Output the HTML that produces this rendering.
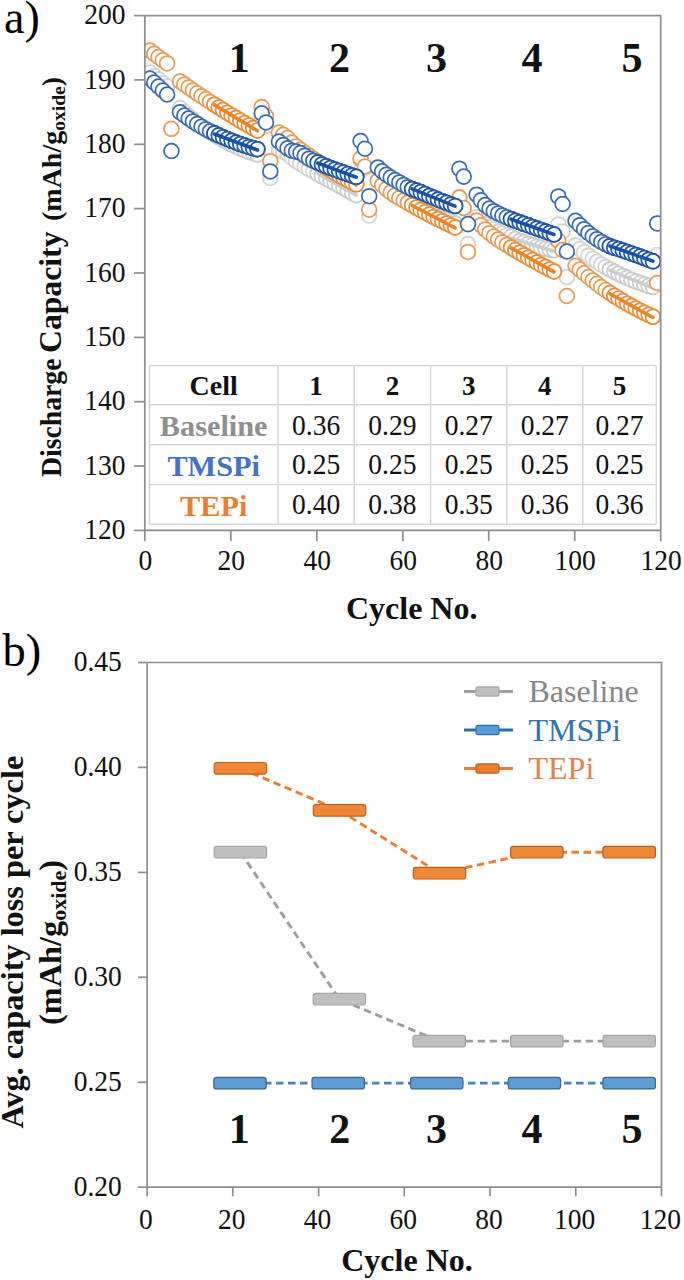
<!DOCTYPE html><html><head><meta charset="utf-8"><style>html,body{margin:0;padding:0;background:#fff;width:684px;height:1280px;overflow:hidden}svg{display:block}</style></head><body>
<svg width="684" height="1280" viewBox="0 0 684 1280" font-family="Liberation Serif, serif">
<defs><clipPath id="ca"><rect x="144.8" y="15.6" width="515.9" height="514.8"/></clipPath></defs>
<text x="4" y="32.7" font-size="46">a)</text>
<g clip-path="url(#ca)">
<g fill="#fff" stroke="#d3d3d3" stroke-width="1.75">
<circle cx="149.9" cy="72.5" r="7.4"/>
<circle cx="154.2" cy="76.0" r="7.4"/>
<circle cx="158.5" cy="79.5" r="7.4"/>
<circle cx="162.8" cy="83.0" r="7.4"/>
<circle cx="167.1" cy="86.5" r="7.4"/>
<circle cx="171.4" cy="151.0" r="7.4"/>
<circle cx="180.0" cy="108.1" r="7.4"/>
<circle cx="184.3" cy="112.1" r="7.4"/>
<circle cx="188.6" cy="115.9" r="7.4"/>
<circle cx="192.9" cy="119.6" r="7.4"/>
<circle cx="197.2" cy="123.1" r="7.4"/>
<circle cx="201.5" cy="126.4" r="7.4"/>
<circle cx="205.8" cy="129.5" r="7.4"/>
<circle cx="210.1" cy="132.3" r="7.4"/>
<circle cx="214.4" cy="134.9" r="7.4"/>
<circle cx="218.7" cy="137.4" r="7.4"/>
<circle cx="223.0" cy="139.8" r="7.4"/>
<circle cx="227.3" cy="142.1" r="7.4"/>
<circle cx="231.6" cy="144.3" r="7.4"/>
<circle cx="235.9" cy="146.4" r="7.4"/>
<circle cx="240.2" cy="148.3" r="7.4"/>
<circle cx="244.5" cy="150.1" r="7.4"/>
<circle cx="248.8" cy="151.8" r="7.4"/>
<circle cx="253.1" cy="153.2" r="7.4"/>
<circle cx="257.4" cy="154.5" r="7.4"/>
<circle cx="261.7" cy="118.0" r="7.4"/>
<circle cx="266.0" cy="126.0" r="7.4"/>
<circle cx="270.3" cy="178.0" r="7.4"/>
<circle cx="278.9" cy="150.1" r="7.4"/>
<circle cx="283.2" cy="151.3" r="7.4"/>
<circle cx="287.5" cy="154.0" r="7.4"/>
<circle cx="291.8" cy="157.6" r="7.4"/>
<circle cx="296.1" cy="161.1" r="7.4"/>
<circle cx="300.4" cy="163.9" r="7.4"/>
<circle cx="304.7" cy="166.5" r="7.4"/>
<circle cx="309.0" cy="169.1" r="7.4"/>
<circle cx="313.3" cy="171.5" r="7.4"/>
<circle cx="317.6" cy="173.8" r="7.4"/>
<circle cx="321.9" cy="176.1" r="7.4"/>
<circle cx="326.2" cy="178.4" r="7.4"/>
<circle cx="330.5" cy="180.8" r="7.4"/>
<circle cx="334.8" cy="183.2" r="7.4"/>
<circle cx="339.1" cy="185.6" r="7.4"/>
<circle cx="343.4" cy="188.0" r="7.4"/>
<circle cx="347.7" cy="190.4" r="7.4"/>
<circle cx="352.0" cy="192.8" r="7.4"/>
<circle cx="356.3" cy="195.2" r="7.4"/>
<circle cx="360.6" cy="160.0" r="7.4"/>
<circle cx="364.9" cy="168.0" r="7.4"/>
<circle cx="369.2" cy="215.5" r="7.4"/>
<circle cx="377.8" cy="180.3" r="7.4"/>
<circle cx="382.1" cy="183.4" r="7.4"/>
<circle cx="386.4" cy="186.5" r="7.4"/>
<circle cx="390.7" cy="189.5" r="7.4"/>
<circle cx="395.0" cy="192.5" r="7.4"/>
<circle cx="399.3" cy="195.3" r="7.4"/>
<circle cx="403.6" cy="198.0" r="7.4"/>
<circle cx="407.8" cy="200.5" r="7.4"/>
<circle cx="412.1" cy="203.0" r="7.4"/>
<circle cx="416.4" cy="205.4" r="7.4"/>
<circle cx="420.7" cy="207.7" r="7.4"/>
<circle cx="425.0" cy="209.9" r="7.4"/>
<circle cx="429.3" cy="212.1" r="7.4"/>
<circle cx="433.6" cy="214.2" r="7.4"/>
<circle cx="437.9" cy="216.3" r="7.4"/>
<circle cx="442.2" cy="218.2" r="7.4"/>
<circle cx="446.5" cy="220.1" r="7.4"/>
<circle cx="450.8" cy="221.9" r="7.4"/>
<circle cx="455.1" cy="223.5" r="7.4"/>
<circle cx="459.4" cy="197.0" r="7.4"/>
<circle cx="463.7" cy="208.0" r="7.4"/>
<circle cx="468.0" cy="244.0" r="7.4"/>
<circle cx="476.6" cy="217.3" r="7.4"/>
<circle cx="480.9" cy="221.0" r="7.4"/>
<circle cx="485.2" cy="224.3" r="7.4"/>
<circle cx="489.5" cy="227.2" r="7.4"/>
<circle cx="493.8" cy="229.6" r="7.4"/>
<circle cx="498.1" cy="231.7" r="7.4"/>
<circle cx="502.4" cy="233.5" r="7.4"/>
<circle cx="506.7" cy="235.2" r="7.4"/>
<circle cx="511.0" cy="237.0" r="7.4"/>
<circle cx="515.3" cy="239.0" r="7.4"/>
<circle cx="519.6" cy="240.9" r="7.4"/>
<circle cx="523.9" cy="242.4" r="7.4"/>
<circle cx="528.2" cy="243.9" r="7.4"/>
<circle cx="532.5" cy="245.2" r="7.4"/>
<circle cx="536.8" cy="246.5" r="7.4"/>
<circle cx="541.1" cy="247.6" r="7.4"/>
<circle cx="545.4" cy="248.7" r="7.4"/>
<circle cx="549.7" cy="249.5" r="7.4"/>
<circle cx="554.0" cy="250.2" r="7.4"/>
<circle cx="558.3" cy="224.4" r="7.4"/>
<circle cx="562.6" cy="231.5" r="7.4"/>
<circle cx="566.9" cy="277.0" r="7.4"/>
<circle cx="575.5" cy="245.4" r="7.4"/>
<circle cx="579.8" cy="248.9" r="7.4"/>
<circle cx="584.1" cy="252.3" r="7.4"/>
<circle cx="588.4" cy="255.7" r="7.4"/>
<circle cx="592.7" cy="258.8" r="7.4"/>
<circle cx="597.0" cy="261.8" r="7.4"/>
<circle cx="601.3" cy="264.6" r="7.4"/>
<circle cx="605.6" cy="267.1" r="7.4"/>
<circle cx="609.9" cy="269.5" r="7.4"/>
<circle cx="614.2" cy="271.7" r="7.4"/>
<circle cx="618.5" cy="273.8" r="7.4"/>
<circle cx="622.8" cy="275.9" r="7.4"/>
<circle cx="627.1" cy="277.8" r="7.4"/>
<circle cx="631.4" cy="279.7" r="7.4"/>
<circle cx="635.7" cy="281.4" r="7.4"/>
<circle cx="640.0" cy="283.0" r="7.4"/>
<circle cx="644.3" cy="284.5" r="7.4"/>
<circle cx="648.6" cy="285.8" r="7.4"/>
<circle cx="652.9" cy="286.9" r="7.4"/>
<circle cx="657.2" cy="255.0" r="7.4"/>
</g>
<g fill="#fff" stroke="#cccccc" stroke-width="1.75"><circle cx="214.4" cy="134.9" r="7.4"/><circle cx="218.7" cy="137.4" r="7.4"/><circle cx="223.0" cy="139.8" r="7.4"/><circle cx="227.3" cy="142.1" r="7.4"/><circle cx="231.6" cy="144.3" r="7.4"/><circle cx="235.9" cy="146.4" r="7.4"/><circle cx="240.2" cy="148.3" r="7.4"/><circle cx="244.5" cy="150.1" r="7.4"/><circle cx="248.8" cy="151.8" r="7.4"/><circle cx="253.1" cy="153.2" r="7.4"/><circle cx="257.4" cy="154.5" r="7.4"/></g>
<path d="M214.4,135.8 L257.4,155.6" fill="none" stroke="#cdcdcd" stroke-width="3.6" stroke-linecap="round"/>
<g fill="#fff" stroke="#cccccc" stroke-width="1.75"><circle cx="317.6" cy="173.8" r="7.4"/><circle cx="321.9" cy="176.1" r="7.4"/><circle cx="326.2" cy="178.4" r="7.4"/><circle cx="330.5" cy="180.8" r="7.4"/><circle cx="334.8" cy="183.2" r="7.4"/><circle cx="339.1" cy="185.6" r="7.4"/><circle cx="343.4" cy="188.0" r="7.4"/><circle cx="347.7" cy="190.4" r="7.4"/><circle cx="352.0" cy="192.8" r="7.4"/><circle cx="356.3" cy="195.2" r="7.4"/></g>
<path d="M317.6,173.7 L356.3,195.1" fill="none" stroke="#cdcdcd" stroke-width="3.6" stroke-linecap="round"/>
<g fill="#fff" stroke="#cccccc" stroke-width="1.75"><circle cx="412.1" cy="203.0" r="7.4"/><circle cx="416.4" cy="205.4" r="7.4"/><circle cx="420.7" cy="207.7" r="7.4"/><circle cx="425.0" cy="209.9" r="7.4"/><circle cx="429.3" cy="212.1" r="7.4"/><circle cx="433.6" cy="214.2" r="7.4"/><circle cx="437.9" cy="216.3" r="7.4"/><circle cx="442.2" cy="218.2" r="7.4"/><circle cx="446.5" cy="220.1" r="7.4"/><circle cx="450.8" cy="221.9" r="7.4"/><circle cx="455.1" cy="223.5" r="7.4"/></g>
<path d="M412.1,203.5 L455.1,224.2" fill="none" stroke="#cdcdcd" stroke-width="3.6" stroke-linecap="round"/>
<g fill="#fff" stroke="#cccccc" stroke-width="1.75"><circle cx="511.0" cy="237.0" r="7.4"/><circle cx="515.3" cy="239.0" r="7.4"/><circle cx="519.6" cy="240.9" r="7.4"/><circle cx="523.9" cy="242.4" r="7.4"/><circle cx="528.2" cy="243.9" r="7.4"/><circle cx="532.5" cy="245.2" r="7.4"/><circle cx="536.8" cy="246.5" r="7.4"/><circle cx="541.1" cy="247.6" r="7.4"/><circle cx="545.4" cy="248.7" r="7.4"/><circle cx="549.7" cy="249.5" r="7.4"/><circle cx="554.0" cy="250.2" r="7.4"/></g>
<path d="M511.0,238.1 L554.0,251.2" fill="none" stroke="#cdcdcd" stroke-width="3.6" stroke-linecap="round"/>
<g fill="#fff" stroke="#cccccc" stroke-width="1.75"><circle cx="609.9" cy="269.5" r="7.4"/><circle cx="614.2" cy="271.7" r="7.4"/><circle cx="618.5" cy="273.8" r="7.4"/><circle cx="622.8" cy="275.9" r="7.4"/><circle cx="627.1" cy="277.8" r="7.4"/><circle cx="631.4" cy="279.7" r="7.4"/><circle cx="635.7" cy="281.4" r="7.4"/><circle cx="640.0" cy="283.0" r="7.4"/><circle cx="644.3" cy="284.5" r="7.4"/><circle cx="648.6" cy="285.8" r="7.4"/><circle cx="652.9" cy="286.9" r="7.4"/></g>
<path d="M609.9,270.3 L652.9,287.9" fill="none" stroke="#cdcdcd" stroke-width="3.6" stroke-linecap="round"/>
<g fill="#fff" stroke="#e89c58" stroke-width="1.75">
<circle cx="149.9" cy="50.6" r="7.4"/>
<circle cx="154.2" cy="53.8" r="7.4"/>
<circle cx="158.5" cy="57.0" r="7.4"/>
<circle cx="162.8" cy="60.2" r="7.4"/>
<circle cx="167.1" cy="63.4" r="7.4"/>
<circle cx="171.4" cy="128.8" r="7.4"/>
<circle cx="180.0" cy="81.4" r="7.4"/>
<circle cx="184.3" cy="84.4" r="7.4"/>
<circle cx="188.6" cy="87.4" r="7.4"/>
<circle cx="192.9" cy="90.4" r="7.4"/>
<circle cx="197.2" cy="93.3" r="7.4"/>
<circle cx="201.5" cy="96.2" r="7.4"/>
<circle cx="205.8" cy="99.1" r="7.4"/>
<circle cx="210.1" cy="101.9" r="7.4"/>
<circle cx="214.4" cy="104.7" r="7.4"/>
<circle cx="218.7" cy="107.4" r="7.4"/>
<circle cx="223.0" cy="110.1" r="7.4"/>
<circle cx="227.3" cy="112.8" r="7.4"/>
<circle cx="231.6" cy="115.4" r="7.4"/>
<circle cx="235.9" cy="118.0" r="7.4"/>
<circle cx="240.2" cy="120.6" r="7.4"/>
<circle cx="244.5" cy="123.1" r="7.4"/>
<circle cx="248.8" cy="125.6" r="7.4"/>
<circle cx="253.1" cy="128.1" r="7.4"/>
<circle cx="257.4" cy="130.5" r="7.4"/>
<circle cx="261.7" cy="107.0" r="7.4"/>
<circle cx="266.0" cy="116.0" r="7.4"/>
<circle cx="270.3" cy="161.2" r="7.4"/>
<circle cx="278.9" cy="132.5" r="7.4"/>
<circle cx="283.2" cy="134.8" r="7.4"/>
<circle cx="287.5" cy="138.1" r="7.4"/>
<circle cx="291.8" cy="142.6" r="7.4"/>
<circle cx="296.1" cy="146.4" r="7.4"/>
<circle cx="300.4" cy="149.7" r="7.4"/>
<circle cx="304.7" cy="152.8" r="7.4"/>
<circle cx="309.0" cy="155.8" r="7.4"/>
<circle cx="313.3" cy="158.8" r="7.4"/>
<circle cx="317.6" cy="161.8" r="7.4"/>
<circle cx="321.9" cy="164.6" r="7.4"/>
<circle cx="326.2" cy="167.4" r="7.4"/>
<circle cx="330.5" cy="170.2" r="7.4"/>
<circle cx="334.8" cy="172.8" r="7.4"/>
<circle cx="339.1" cy="175.3" r="7.4"/>
<circle cx="343.4" cy="177.7" r="7.4"/>
<circle cx="347.7" cy="180.0" r="7.4"/>
<circle cx="352.0" cy="182.2" r="7.4"/>
<circle cx="356.3" cy="184.3" r="7.4"/>
<circle cx="360.6" cy="158.5" r="7.4"/>
<circle cx="364.9" cy="166.5" r="7.4"/>
<circle cx="369.2" cy="209.6" r="7.4"/>
<circle cx="377.8" cy="181.0" r="7.4"/>
<circle cx="382.1" cy="185.2" r="7.4"/>
<circle cx="386.4" cy="189.1" r="7.4"/>
<circle cx="390.7" cy="192.5" r="7.4"/>
<circle cx="395.0" cy="195.4" r="7.4"/>
<circle cx="399.3" cy="198.0" r="7.4"/>
<circle cx="403.6" cy="200.4" r="7.4"/>
<circle cx="407.8" cy="202.8" r="7.4"/>
<circle cx="412.1" cy="205.2" r="7.4"/>
<circle cx="416.4" cy="207.6" r="7.4"/>
<circle cx="420.7" cy="210.0" r="7.4"/>
<circle cx="425.0" cy="212.3" r="7.4"/>
<circle cx="429.3" cy="214.6" r="7.4"/>
<circle cx="433.6" cy="216.9" r="7.4"/>
<circle cx="437.9" cy="219.1" r="7.4"/>
<circle cx="442.2" cy="221.2" r="7.4"/>
<circle cx="446.5" cy="223.4" r="7.4"/>
<circle cx="450.8" cy="225.4" r="7.4"/>
<circle cx="455.1" cy="227.4" r="7.4"/>
<circle cx="459.4" cy="197.5" r="7.4"/>
<circle cx="463.7" cy="208.0" r="7.4"/>
<circle cx="468.0" cy="251.9" r="7.4"/>
<circle cx="476.6" cy="220.6" r="7.4"/>
<circle cx="480.9" cy="225.2" r="7.4"/>
<circle cx="485.2" cy="229.4" r="7.4"/>
<circle cx="489.5" cy="233.2" r="7.4"/>
<circle cx="493.8" cy="236.6" r="7.4"/>
<circle cx="498.1" cy="239.6" r="7.4"/>
<circle cx="502.4" cy="242.3" r="7.4"/>
<circle cx="506.7" cy="244.9" r="7.4"/>
<circle cx="511.0" cy="247.5" r="7.4"/>
<circle cx="515.3" cy="250.1" r="7.4"/>
<circle cx="519.6" cy="252.7" r="7.4"/>
<circle cx="523.9" cy="255.2" r="7.4"/>
<circle cx="528.2" cy="257.7" r="7.4"/>
<circle cx="532.5" cy="260.1" r="7.4"/>
<circle cx="536.8" cy="262.5" r="7.4"/>
<circle cx="541.1" cy="264.9" r="7.4"/>
<circle cx="545.4" cy="267.1" r="7.4"/>
<circle cx="549.7" cy="269.4" r="7.4"/>
<circle cx="554.0" cy="271.5" r="7.4"/>
<circle cx="558.3" cy="240.8" r="7.4"/>
<circle cx="562.6" cy="250.0" r="7.4"/>
<circle cx="566.9" cy="296.0" r="7.4"/>
<circle cx="575.5" cy="265.8" r="7.4"/>
<circle cx="579.8" cy="269.6" r="7.4"/>
<circle cx="584.1" cy="273.3" r="7.4"/>
<circle cx="588.4" cy="277.0" r="7.4"/>
<circle cx="592.7" cy="280.5" r="7.4"/>
<circle cx="597.0" cy="283.8" r="7.4"/>
<circle cx="601.3" cy="287.1" r="7.4"/>
<circle cx="605.6" cy="290.1" r="7.4"/>
<circle cx="609.9" cy="293.0" r="7.4"/>
<circle cx="614.2" cy="295.8" r="7.4"/>
<circle cx="618.5" cy="298.5" r="7.4"/>
<circle cx="622.8" cy="301.1" r="7.4"/>
<circle cx="627.1" cy="303.7" r="7.4"/>
<circle cx="631.4" cy="306.1" r="7.4"/>
<circle cx="635.7" cy="308.5" r="7.4"/>
<circle cx="640.0" cy="310.7" r="7.4"/>
<circle cx="644.3" cy="312.8" r="7.4"/>
<circle cx="648.6" cy="314.8" r="7.4"/>
<circle cx="652.9" cy="316.7" r="7.4"/>
<circle cx="657.2" cy="283.0" r="7.4"/>
</g>
<g fill="#fff" stroke="#e8903f" stroke-width="1.75"><circle cx="214.4" cy="104.7" r="7.4"/><circle cx="218.7" cy="107.4" r="7.4"/><circle cx="223.0" cy="110.1" r="7.4"/><circle cx="227.3" cy="112.8" r="7.4"/><circle cx="231.6" cy="115.4" r="7.4"/><circle cx="235.9" cy="118.0" r="7.4"/><circle cx="240.2" cy="120.6" r="7.4"/><circle cx="244.5" cy="123.1" r="7.4"/><circle cx="248.8" cy="125.6" r="7.4"/><circle cx="253.1" cy="128.1" r="7.4"/><circle cx="257.4" cy="130.5" r="7.4"/></g>
<path d="M214.4,104.9 L257.4,130.8" fill="none" stroke="#ef8321" stroke-width="3.6" stroke-linecap="round"/>
<g fill="#fff" stroke="#e8903f" stroke-width="1.75"><circle cx="317.6" cy="161.8" r="7.4"/><circle cx="321.9" cy="164.6" r="7.4"/><circle cx="326.2" cy="167.4" r="7.4"/><circle cx="330.5" cy="170.2" r="7.4"/><circle cx="334.8" cy="172.8" r="7.4"/><circle cx="339.1" cy="175.3" r="7.4"/><circle cx="343.4" cy="177.7" r="7.4"/><circle cx="347.7" cy="180.0" r="7.4"/><circle cx="352.0" cy="182.2" r="7.4"/><circle cx="356.3" cy="184.3" r="7.4"/></g>
<path d="M317.6,162.3 L356.3,184.9" fill="none" stroke="#ef8321" stroke-width="3.6" stroke-linecap="round"/>
<g fill="#fff" stroke="#e8903f" stroke-width="1.75"><circle cx="412.1" cy="205.2" r="7.4"/><circle cx="416.4" cy="207.6" r="7.4"/><circle cx="420.7" cy="210.0" r="7.4"/><circle cx="425.0" cy="212.3" r="7.4"/><circle cx="429.3" cy="214.6" r="7.4"/><circle cx="433.6" cy="216.9" r="7.4"/><circle cx="437.9" cy="219.1" r="7.4"/><circle cx="442.2" cy="221.2" r="7.4"/><circle cx="446.5" cy="223.4" r="7.4"/><circle cx="450.8" cy="225.4" r="7.4"/><circle cx="455.1" cy="227.4" r="7.4"/></g>
<path d="M412.1,205.5 L455.1,227.8" fill="none" stroke="#ef8321" stroke-width="3.6" stroke-linecap="round"/>
<g fill="#fff" stroke="#e8903f" stroke-width="1.75"><circle cx="511.0" cy="247.5" r="7.4"/><circle cx="515.3" cy="250.1" r="7.4"/><circle cx="519.6" cy="252.7" r="7.4"/><circle cx="523.9" cy="255.2" r="7.4"/><circle cx="528.2" cy="257.7" r="7.4"/><circle cx="532.5" cy="260.1" r="7.4"/><circle cx="536.8" cy="262.5" r="7.4"/><circle cx="541.1" cy="264.9" r="7.4"/><circle cx="545.4" cy="267.1" r="7.4"/><circle cx="549.7" cy="269.4" r="7.4"/><circle cx="554.0" cy="271.5" r="7.4"/></g>
<path d="M511.0,247.9 L554.0,271.9" fill="none" stroke="#ef8321" stroke-width="3.6" stroke-linecap="round"/>
<g fill="#fff" stroke="#e8903f" stroke-width="1.75"><circle cx="609.9" cy="293.0" r="7.4"/><circle cx="614.2" cy="295.8" r="7.4"/><circle cx="618.5" cy="298.5" r="7.4"/><circle cx="622.8" cy="301.1" r="7.4"/><circle cx="627.1" cy="303.7" r="7.4"/><circle cx="631.4" cy="306.1" r="7.4"/><circle cx="635.7" cy="308.5" r="7.4"/><circle cx="640.0" cy="310.7" r="7.4"/><circle cx="644.3" cy="312.8" r="7.4"/><circle cx="648.6" cy="314.8" r="7.4"/><circle cx="652.9" cy="316.7" r="7.4"/></g>
<path d="M609.9,293.7 L652.9,317.5" fill="none" stroke="#ef8321" stroke-width="3.6" stroke-linecap="round"/>
<g fill="#fff" stroke="#3a6db0" stroke-width="1.75">
<circle cx="149.9" cy="78.5" r="7.4"/>
<circle cx="154.2" cy="82.5" r="7.4"/>
<circle cx="158.5" cy="86.5" r="7.4"/>
<circle cx="162.8" cy="90.5" r="7.4"/>
<circle cx="167.1" cy="94.5" r="7.4"/>
<circle cx="171.4" cy="151.0" r="7.4"/>
<circle cx="180.0" cy="112.2" r="7.4"/>
<circle cx="184.3" cy="115.5" r="7.4"/>
<circle cx="188.6" cy="118.5" r="7.4"/>
<circle cx="192.9" cy="121.4" r="7.4"/>
<circle cx="197.2" cy="124.1" r="7.4"/>
<circle cx="201.5" cy="126.7" r="7.4"/>
<circle cx="205.8" cy="129.2" r="7.4"/>
<circle cx="210.1" cy="131.4" r="7.4"/>
<circle cx="214.4" cy="133.4" r="7.4"/>
<circle cx="218.7" cy="135.3" r="7.4"/>
<circle cx="223.0" cy="137.2" r="7.4"/>
<circle cx="227.3" cy="139.0" r="7.4"/>
<circle cx="231.6" cy="140.8" r="7.4"/>
<circle cx="235.9" cy="142.5" r="7.4"/>
<circle cx="240.2" cy="144.1" r="7.4"/>
<circle cx="244.5" cy="145.5" r="7.4"/>
<circle cx="248.8" cy="146.9" r="7.4"/>
<circle cx="253.1" cy="148.1" r="7.4"/>
<circle cx="257.4" cy="149.2" r="7.4"/>
<circle cx="261.7" cy="113.3" r="7.4"/>
<circle cx="266.0" cy="122.4" r="7.4"/>
<circle cx="270.3" cy="171.4" r="7.4"/>
<circle cx="278.9" cy="141.5" r="7.4"/>
<circle cx="283.2" cy="144.9" r="7.4"/>
<circle cx="287.5" cy="148.3" r="7.4"/>
<circle cx="291.8" cy="150.7" r="7.4"/>
<circle cx="296.1" cy="151.6" r="7.4"/>
<circle cx="300.4" cy="153.0" r="7.4"/>
<circle cx="304.7" cy="155.7" r="7.4"/>
<circle cx="309.0" cy="158.7" r="7.4"/>
<circle cx="313.3" cy="160.8" r="7.4"/>
<circle cx="317.6" cy="162.6" r="7.4"/>
<circle cx="321.9" cy="164.4" r="7.4"/>
<circle cx="326.2" cy="166.2" r="7.4"/>
<circle cx="330.5" cy="167.9" r="7.4"/>
<circle cx="334.8" cy="169.5" r="7.4"/>
<circle cx="339.1" cy="171.1" r="7.4"/>
<circle cx="343.4" cy="172.6" r="7.4"/>
<circle cx="347.7" cy="174.1" r="7.4"/>
<circle cx="352.0" cy="175.5" r="7.4"/>
<circle cx="356.3" cy="176.8" r="7.4"/>
<circle cx="360.6" cy="141.0" r="7.4"/>
<circle cx="364.9" cy="148.7" r="7.4"/>
<circle cx="369.2" cy="196.2" r="7.4"/>
<circle cx="377.8" cy="167.4" r="7.4"/>
<circle cx="382.1" cy="171.3" r="7.4"/>
<circle cx="386.4" cy="174.7" r="7.4"/>
<circle cx="390.7" cy="177.5" r="7.4"/>
<circle cx="395.0" cy="180.0" r="7.4"/>
<circle cx="399.3" cy="182.4" r="7.4"/>
<circle cx="403.6" cy="184.9" r="7.4"/>
<circle cx="407.8" cy="187.2" r="7.4"/>
<circle cx="412.1" cy="189.1" r="7.4"/>
<circle cx="416.4" cy="190.5" r="7.4"/>
<circle cx="420.7" cy="192.1" r="7.4"/>
<circle cx="425.0" cy="193.9" r="7.4"/>
<circle cx="429.3" cy="195.9" r="7.4"/>
<circle cx="433.6" cy="197.7" r="7.4"/>
<circle cx="437.9" cy="199.5" r="7.4"/>
<circle cx="442.2" cy="201.2" r="7.4"/>
<circle cx="446.5" cy="202.8" r="7.4"/>
<circle cx="450.8" cy="204.4" r="7.4"/>
<circle cx="455.1" cy="205.9" r="7.4"/>
<circle cx="459.4" cy="168.7" r="7.4"/>
<circle cx="463.7" cy="176.6" r="7.4"/>
<circle cx="468.0" cy="224.1" r="7.4"/>
<circle cx="476.6" cy="194.7" r="7.4"/>
<circle cx="480.9" cy="200.3" r="7.4"/>
<circle cx="485.2" cy="205.1" r="7.4"/>
<circle cx="489.5" cy="208.5" r="7.4"/>
<circle cx="493.8" cy="211.2" r="7.4"/>
<circle cx="498.1" cy="213.4" r="7.4"/>
<circle cx="502.4" cy="215.5" r="7.4"/>
<circle cx="506.7" cy="217.3" r="7.4"/>
<circle cx="511.0" cy="219.1" r="7.4"/>
<circle cx="515.3" cy="220.7" r="7.4"/>
<circle cx="519.6" cy="222.2" r="7.4"/>
<circle cx="523.9" cy="223.8" r="7.4"/>
<circle cx="528.2" cy="225.3" r="7.4"/>
<circle cx="532.5" cy="226.9" r="7.4"/>
<circle cx="536.8" cy="228.4" r="7.4"/>
<circle cx="541.1" cy="230.0" r="7.4"/>
<circle cx="545.4" cy="231.5" r="7.4"/>
<circle cx="549.7" cy="233.0" r="7.4"/>
<circle cx="554.0" cy="234.5" r="7.4"/>
<circle cx="558.3" cy="196.4" r="7.4"/>
<circle cx="562.6" cy="204.0" r="7.4"/>
<circle cx="566.9" cy="251.5" r="7.4"/>
<circle cx="575.5" cy="220.8" r="7.4"/>
<circle cx="579.8" cy="225.2" r="7.4"/>
<circle cx="584.1" cy="229.2" r="7.4"/>
<circle cx="588.4" cy="232.9" r="7.4"/>
<circle cx="592.7" cy="236.2" r="7.4"/>
<circle cx="597.0" cy="239.2" r="7.4"/>
<circle cx="601.3" cy="241.9" r="7.4"/>
<circle cx="605.6" cy="244.2" r="7.4"/>
<circle cx="609.9" cy="246.2" r="7.4"/>
<circle cx="614.2" cy="247.7" r="7.4"/>
<circle cx="618.5" cy="249.0" r="7.4"/>
<circle cx="622.8" cy="250.5" r="7.4"/>
<circle cx="627.1" cy="252.0" r="7.4"/>
<circle cx="631.4" cy="253.5" r="7.4"/>
<circle cx="635.7" cy="255.0" r="7.4"/>
<circle cx="640.0" cy="256.5" r="7.4"/>
<circle cx="644.3" cy="258.1" r="7.4"/>
<circle cx="648.6" cy="259.7" r="7.4"/>
<circle cx="652.9" cy="261.3" r="7.4"/>
<circle cx="657.2" cy="223.4" r="7.4"/>
</g>
<g fill="#fff" stroke="#2256a3" stroke-width="1.75"><circle cx="214.4" cy="133.4" r="7.4"/><circle cx="218.7" cy="135.3" r="7.4"/><circle cx="223.0" cy="137.2" r="7.4"/><circle cx="227.3" cy="139.0" r="7.4"/><circle cx="231.6" cy="140.8" r="7.4"/><circle cx="235.9" cy="142.5" r="7.4"/><circle cx="240.2" cy="144.1" r="7.4"/><circle cx="244.5" cy="145.5" r="7.4"/><circle cx="248.8" cy="146.9" r="7.4"/><circle cx="253.1" cy="148.1" r="7.4"/><circle cx="257.4" cy="149.2" r="7.4"/></g>
<path d="M214.4,134.0 L257.4,150.0" fill="none" stroke="#1754a8" stroke-width="3.6" stroke-linecap="round"/>
<g fill="#fff" stroke="#2256a3" stroke-width="1.75"><circle cx="317.6" cy="162.6" r="7.4"/><circle cx="321.9" cy="164.4" r="7.4"/><circle cx="326.2" cy="166.2" r="7.4"/><circle cx="330.5" cy="167.9" r="7.4"/><circle cx="334.8" cy="169.5" r="7.4"/><circle cx="339.1" cy="171.1" r="7.4"/><circle cx="343.4" cy="172.6" r="7.4"/><circle cx="347.7" cy="174.1" r="7.4"/><circle cx="352.0" cy="175.5" r="7.4"/><circle cx="356.3" cy="176.8" r="7.4"/></g>
<path d="M317.6,163.0 L356.3,177.2" fill="none" stroke="#1754a8" stroke-width="3.6" stroke-linecap="round"/>
<g fill="#fff" stroke="#2256a3" stroke-width="1.75"><circle cx="412.1" cy="189.1" r="7.4"/><circle cx="416.4" cy="190.5" r="7.4"/><circle cx="420.7" cy="192.1" r="7.4"/><circle cx="425.0" cy="193.9" r="7.4"/><circle cx="429.3" cy="195.9" r="7.4"/><circle cx="433.6" cy="197.7" r="7.4"/><circle cx="437.9" cy="199.5" r="7.4"/><circle cx="442.2" cy="201.2" r="7.4"/><circle cx="446.5" cy="202.8" r="7.4"/><circle cx="450.8" cy="204.4" r="7.4"/><circle cx="455.1" cy="205.9" r="7.4"/></g>
<path d="M412.1,188.9 L455.1,206.2" fill="none" stroke="#1754a8" stroke-width="3.6" stroke-linecap="round"/>
<g fill="#fff" stroke="#2256a3" stroke-width="1.75"><circle cx="511.0" cy="219.1" r="7.4"/><circle cx="515.3" cy="220.7" r="7.4"/><circle cx="519.6" cy="222.2" r="7.4"/><circle cx="523.9" cy="223.8" r="7.4"/><circle cx="528.2" cy="225.3" r="7.4"/><circle cx="532.5" cy="226.9" r="7.4"/><circle cx="536.8" cy="228.4" r="7.4"/><circle cx="541.1" cy="230.0" r="7.4"/><circle cx="545.4" cy="231.5" r="7.4"/><circle cx="549.7" cy="233.0" r="7.4"/><circle cx="554.0" cy="234.5" r="7.4"/></g>
<path d="M511.0,219.2 L554.0,234.5" fill="none" stroke="#1754a8" stroke-width="3.6" stroke-linecap="round"/>
<g fill="#fff" stroke="#2256a3" stroke-width="1.75"><circle cx="609.9" cy="246.2" r="7.4"/><circle cx="614.2" cy="247.7" r="7.4"/><circle cx="618.5" cy="249.0" r="7.4"/><circle cx="622.8" cy="250.5" r="7.4"/><circle cx="627.1" cy="252.0" r="7.4"/><circle cx="631.4" cy="253.5" r="7.4"/><circle cx="635.7" cy="255.0" r="7.4"/><circle cx="640.0" cy="256.5" r="7.4"/><circle cx="644.3" cy="258.1" r="7.4"/><circle cx="648.6" cy="259.7" r="7.4"/><circle cx="652.9" cy="261.3" r="7.4"/></g>
<path d="M609.9,246.0 L652.9,261.1" fill="none" stroke="#1754a8" stroke-width="3.6" stroke-linecap="round"/>
</g>
<g stroke="#8e8e8e" stroke-width="1.7" fill="none">
<path d="M144.8,15.6 H660.7 V530.4"/>
<path d="M144.8,15.6 V530.4 H660.7"/>
<path d="M134,530.4 H144.8"/>
<path d="M134,466.0 H144.8"/>
<path d="M134,401.7 H144.8"/>
<path d="M134,337.4 H144.8"/>
<path d="M134,273.0 H144.8"/>
<path d="M134,208.6 H144.8"/>
<path d="M134,144.3 H144.8"/>
<path d="M134,79.9 H144.8"/>
<path d="M134,15.6 H144.8"/>
<path d="M144.8,530.4 V541.2"/>
<path d="M230.8,530.4 V541.2"/>
<path d="M316.8,530.4 V541.2"/>
<path d="M402.8,530.4 V541.2"/>
<path d="M488.7,530.4 V541.2"/>
<path d="M574.7,530.4 V541.2"/>
<path d="M660.7,530.4 V541.2"/>
</g>
<g font-size="28.6" text-anchor="end" fill="#111">
<text transform="translate(125.5,539.0) scale(0.962,1)">120</text>
<text transform="translate(125.5,474.6) scale(0.962,1)">130</text>
<text transform="translate(125.5,410.3) scale(0.962,1)">140</text>
<text transform="translate(125.5,346.0) scale(0.962,1)">150</text>
<text transform="translate(125.5,281.6) scale(0.962,1)">160</text>
<text transform="translate(125.5,217.2) scale(0.962,1)">170</text>
<text transform="translate(125.5,152.9) scale(0.962,1)">180</text>
<text transform="translate(125.5,88.5) scale(0.962,1)">190</text>
<text transform="translate(125.5,24.2) scale(0.962,1)">200</text>
</g>
<g font-size="28.6" text-anchor="middle" fill="#111">
<text transform="translate(145.3,570) scale(0.962,1)">0</text>
<text transform="translate(231.3,570) scale(0.962,1)">20</text>
<text transform="translate(317.3,570) scale(0.962,1)">40</text>
<text transform="translate(403.3,570) scale(0.962,1)">60</text>
<text transform="translate(489.2,570) scale(0.962,1)">80</text>
<text transform="translate(575.2,570) scale(0.962,1)">100</text>
<text transform="translate(661.2,570) scale(0.962,1)">120</text>
</g>
<text x="411.7" y="618.5" font-size="32" font-weight="bold" text-anchor="middle" fill="#111">Cycle No.</text>
<g font-weight="bold" fill="#111">
<text transform="translate(60.5,477) rotate(-90)" font-size="29" textLength="118.5" lengthAdjust="spacingAndGlyphs">Discharge</text>
<text transform="translate(60.5,353) rotate(-90)" font-size="31" textLength="121.5" lengthAdjust="spacingAndGlyphs">Capacity</text>
<text transform="translate(60.5,221) rotate(-90)" font-size="28">(mAh/g<tspan font-size="19.5" dy="4.6">oxide</tspan><tspan dy="-4.6">)</tspan></text>
</g>
<text x="239.3" y="72" font-size="42" font-weight="bold" text-anchor="middle" fill="#111">1</text>
<text x="339.5" y="72" font-size="42" font-weight="bold" text-anchor="middle" fill="#111">2</text>
<text x="436.5" y="72" font-size="42" font-weight="bold" text-anchor="middle" fill="#111">3</text>
<text x="532" y="72" font-size="42" font-weight="bold" text-anchor="middle" fill="#111">4</text>
<text x="632" y="72" font-size="42" font-weight="bold" text-anchor="middle" fill="#111">5</text>
<rect x="149.4" y="365.5" width="506.9" height="158.7" fill="#fff"/>
<g stroke="#d6d6d6" stroke-width="1.5" fill="none">
<path d="M149.4,365.5 H656.3"/>
<path d="M149.4,404.7 H656.3"/>
<path d="M149.4,444.8 H656.3"/>
<path d="M149.4,484.5 H656.3"/>
<path d="M149.4,524.2 H656.3"/>
<path d="M149.4,365.5 V524.2"/>
<path d="M278,365.5 V524.2"/>
<path d="M354.2,365.5 V524.2"/>
<path d="M430.6,365.5 V524.2"/>
<path d="M506.8,365.5 V524.2"/>
<path d="M582.8,365.5 V524.2"/>
<path d="M656.3,365.5 V524.2"/>
</g>
<text x="213.7" y="395.1" font-size="28" font-weight="bold" text-anchor="middle" fill="#111">Cell</text>
<text x="316.1" y="394.6" font-size="27" font-weight="bold" text-anchor="middle" fill="#111">1</text>
<text x="392.4" y="394.6" font-size="27" font-weight="bold" text-anchor="middle" fill="#111">2</text>
<text x="468.7" y="394.6" font-size="27" font-weight="bold" text-anchor="middle" fill="#111">3</text>
<text x="544.8" y="394.6" font-size="27" font-weight="bold" text-anchor="middle" fill="#111">4</text>
<text x="619.5" y="394.6" font-size="27" font-weight="bold" text-anchor="middle" fill="#111">5</text>
<text x="213.7" y="436.1" font-size="30.3" font-weight="bold" text-anchor="middle" fill="#8f8f8f">Baseline</text>
<text transform="translate(316.1,434.6) scale(0.962,1)" font-size="28.6" text-anchor="middle" fill="#111">0.36</text>
<text transform="translate(392.4,434.6) scale(0.962,1)" font-size="28.6" text-anchor="middle" fill="#111">0.29</text>
<text transform="translate(468.7,434.6) scale(0.962,1)" font-size="28.6" text-anchor="middle" fill="#111">0.27</text>
<text transform="translate(544.8,434.6) scale(0.962,1)" font-size="28.6" text-anchor="middle" fill="#111">0.27</text>
<text transform="translate(619.5,434.6) scale(0.962,1)" font-size="28.6" text-anchor="middle" fill="#111">0.27</text>
<text x="213.7" y="475.9" font-size="30.3" font-weight="bold" text-anchor="middle" fill="#4472c4">TMSPi</text>
<text transform="translate(316.1,474.4) scale(0.962,1)" font-size="28.6" text-anchor="middle" fill="#111">0.25</text>
<text transform="translate(392.4,474.4) scale(0.962,1)" font-size="28.6" text-anchor="middle" fill="#111">0.25</text>
<text transform="translate(468.7,474.4) scale(0.962,1)" font-size="28.6" text-anchor="middle" fill="#111">0.25</text>
<text transform="translate(544.8,474.4) scale(0.962,1)" font-size="28.6" text-anchor="middle" fill="#111">0.25</text>
<text transform="translate(619.5,474.4) scale(0.962,1)" font-size="28.6" text-anchor="middle" fill="#111">0.25</text>
<text x="213.7" y="515.6" font-size="30.3" font-weight="bold" text-anchor="middle" fill="#ed7d31">TEPi</text>
<text transform="translate(316.1,514.1) scale(0.962,1)" font-size="28.6" text-anchor="middle" fill="#111">0.40</text>
<text transform="translate(392.4,514.1) scale(0.962,1)" font-size="28.6" text-anchor="middle" fill="#111">0.38</text>
<text transform="translate(468.7,514.1) scale(0.962,1)" font-size="28.6" text-anchor="middle" fill="#111">0.35</text>
<text transform="translate(544.8,514.1) scale(0.962,1)" font-size="28.6" text-anchor="middle" fill="#111">0.36</text>
<text transform="translate(619.5,514.1) scale(0.962,1)" font-size="28.6" text-anchor="middle" fill="#111">0.36</text>
<text x="2.5" y="665.6" font-size="46.5">b)</text>
<g stroke="#8e8e8e" stroke-width="1.7" fill="none">
<path d="M147.1,662.5 H661.5 V1187.2"/>
<path d="M147.1,662.5 V1187.2 H661.5"/>
<path d="M138,1187.2 H147.1"/>
<path d="M138,1082.3 H147.1"/>
<path d="M138,977.3 H147.1"/>
<path d="M138,872.4 H147.1"/>
<path d="M138,767.4 H147.1"/>
<path d="M138,662.5 H147.1"/>
<path d="M147.1,1187.2 V1196.3"/>
<path d="M232.8,1187.2 V1196.3"/>
<path d="M318.6,1187.2 V1196.3"/>
<path d="M404.3,1187.2 V1196.3"/>
<path d="M490.0,1187.2 V1196.3"/>
<path d="M575.8,1187.2 V1196.3"/>
<path d="M661.5,1187.2 V1196.3"/>
</g>
<g font-size="28.6" text-anchor="end" fill="#111">
<text transform="translate(121.8,1195.8) scale(0.962,1)">0.20</text>
<text transform="translate(121.8,1090.9) scale(0.962,1)">0.25</text>
<text transform="translate(121.8,985.9) scale(0.962,1)">0.30</text>
<text transform="translate(121.8,881.0) scale(0.962,1)">0.35</text>
<text transform="translate(121.8,776.0) scale(0.962,1)">0.40</text>
<text transform="translate(121.8,671.1) scale(0.962,1)">0.45</text>
</g>
<g font-size="28.6" text-anchor="middle" fill="#111">
<text transform="translate(146.0,1228.5) scale(0.962,1)">0</text>
<text transform="translate(231.7,1228.5) scale(0.962,1)">20</text>
<text transform="translate(317.5,1228.5) scale(0.962,1)">40</text>
<text transform="translate(403.2,1228.5) scale(0.962,1)">60</text>
<text transform="translate(488.9,1228.5) scale(0.962,1)">80</text>
<text transform="translate(574.7,1228.5) scale(0.962,1)">100</text>
<text transform="translate(660.4,1228.5) scale(0.962,1)">120</text>
</g>
<text x="407" y="1271" font-size="32" font-weight="bold" text-anchor="middle" fill="#111">Cycle No.</text>
<text transform="translate(23.4,942.2) rotate(-90)" font-size="32.3" font-weight="bold" text-anchor="middle" fill="#111">Avg. capacity loss per cycle</text>
<text transform="translate(60.9,942.4) rotate(-90)" font-size="32.3" font-weight="bold" text-anchor="middle" fill="#111">(mAh/g<tspan font-size="22" dy="5">oxide</tspan><tspan dy="-5">)</tspan></text>
<text x="239.3" y="1143" font-size="42" font-weight="bold" text-anchor="middle" fill="#111">1</text>
<text x="339.8" y="1143" font-size="42" font-weight="bold" text-anchor="middle" fill="#111">2</text>
<text x="436.5" y="1143" font-size="42" font-weight="bold" text-anchor="middle" fill="#111">3</text>
<text x="532" y="1143" font-size="42" font-weight="bold" text-anchor="middle" fill="#111">4</text>
<text x="632" y="1143" font-size="42" font-weight="bold" text-anchor="middle" fill="#111">5</text>
<path d="M240.4,852.2 L339.4,999.2 L439.2,1041.1 L536.8,1041.1 L629.2,1041.1" fill="none" stroke="#9e9e9e" stroke-width="2.9" stroke-dasharray="7.5,4.5"/>
<rect x="214.2" y="846.4" width="52.4" height="11.6" rx="2.5" fill="#bfbfbf" stroke="#a5a5a5" stroke-width="1.2"/>
<rect x="313.2" y="993.4" width="52.4" height="11.6" rx="2.5" fill="#bfbfbf" stroke="#a5a5a5" stroke-width="1.2"/>
<rect x="413.0" y="1035.3" width="52.4" height="11.6" rx="2.5" fill="#bfbfbf" stroke="#a5a5a5" stroke-width="1.2"/>
<rect x="510.6" y="1035.3" width="52.4" height="11.6" rx="2.5" fill="#bfbfbf" stroke="#a5a5a5" stroke-width="1.2"/>
<rect x="603.0" y="1035.3" width="52.4" height="11.6" rx="2.5" fill="#bfbfbf" stroke="#a5a5a5" stroke-width="1.2"/>
<path d="M240.0,1083.1 L338.2,1083.1 L436.7,1083.1 L534.4,1083.1 L629.2,1083.1" fill="none" stroke="#4a7fc1" stroke-width="2.9" stroke-dasharray="7.5,4.5"/>
<rect x="213.8" y="1077.3" width="52.4" height="11.6" rx="2.5" fill="#5d9dd3" stroke="#3b6791" stroke-width="1.2"/>
<rect x="312.0" y="1077.3" width="52.4" height="11.6" rx="2.5" fill="#5d9dd3" stroke="#3b6791" stroke-width="1.2"/>
<rect x="410.5" y="1077.3" width="52.4" height="11.6" rx="2.5" fill="#5d9dd3" stroke="#3b6791" stroke-width="1.2"/>
<rect x="508.2" y="1077.3" width="52.4" height="11.6" rx="2.5" fill="#5d9dd3" stroke="#3b6791" stroke-width="1.2"/>
<rect x="603.0" y="1077.3" width="52.4" height="11.6" rx="2.5" fill="#5d9dd3" stroke="#3b6791" stroke-width="1.2"/>
<path d="M240.4,768.3 L339.5,810.3 L439.5,873.2 L536.8,852.2 L629.2,852.2" fill="none" stroke="#ed7d31" stroke-width="2.9" stroke-dasharray="7.5,4.5"/>
<rect x="214.2" y="762.5" width="52.4" height="11.6" rx="2.5" fill="#ee8836" stroke="#bb5f1e" stroke-width="1.2"/>
<rect x="313.3" y="804.5" width="52.4" height="11.6" rx="2.5" fill="#ee8836" stroke="#bb5f1e" stroke-width="1.2"/>
<rect x="413.3" y="867.4" width="52.4" height="11.6" rx="2.5" fill="#ee8836" stroke="#bb5f1e" stroke-width="1.2"/>
<rect x="510.6" y="846.4" width="52.4" height="11.6" rx="2.5" fill="#ee8836" stroke="#bb5f1e" stroke-width="1.2"/>
<rect x="603.0" y="846.4" width="52.4" height="11.6" rx="2.5" fill="#ee8836" stroke="#bb5f1e" stroke-width="1.2"/>
<path d="M464,691.5 H513" stroke="#a0a0a0" stroke-width="2.8"/>
<rect x="476" y="686.9" width="23" height="9.2" rx="2" fill="#bfbfbf" stroke="#a5a5a5" stroke-width="1.2"/>
<text x="528.5" y="702.4" font-size="32" fill="#888888">Baseline</text>
<path d="M464,730.0 H513" stroke="#2e6db4" stroke-width="2.8"/>
<rect x="476" y="725.4" width="23" height="9.2" rx="2" fill="#5b9bd5" stroke="#2e6db4" stroke-width="1.2"/>
<text x="528.5" y="740.9" font-size="32" fill="#3273b3">TMSPi</text>
<path d="M464,768.5 H513" stroke="#ed7d31" stroke-width="2.8"/>
<rect x="476" y="763.9" width="23" height="9.2" rx="2" fill="#ed7d31" stroke="#c0601f" stroke-width="1.2"/>
<text x="528.5" y="779.4" font-size="32" fill="#e0834a">TEPi</text>
</svg></body></html>
